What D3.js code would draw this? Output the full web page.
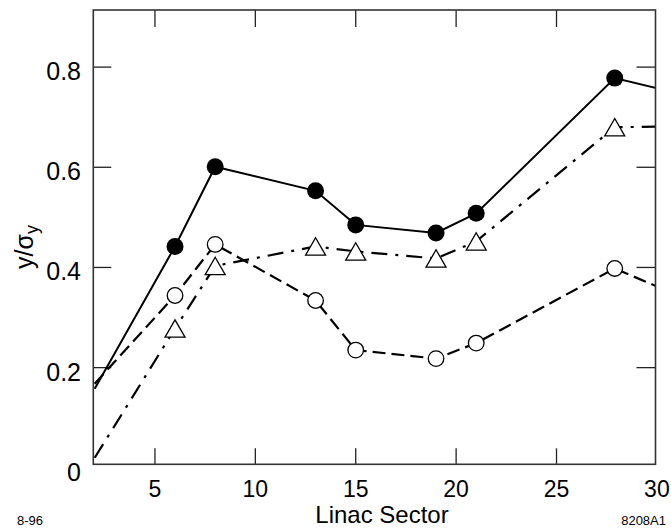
<!DOCTYPE html>
<html><head><meta charset="utf-8">
<script src="https://cdn.jsdelivr.net/npm/d3@7"></script>
<style>body{margin:0;background:#fff}</style>
</head><body>
<svg id="c" width="671" height="529"></svg>
<script>
const solidX = [2, 6, 8, 13, 15, 19, 21, 27.9, 30];
const solidY = [0.158, 0.442, 0.601, 0.553, 0.485, 0.469, 0.508, 0.778, 0.758];
const dashedX = [2, 6, 8, 13, 15, 19, 21, 27.9, 30];
const dashedY = [0.168, 0.344, 0.446, 0.334, 0.235, 0.218, 0.249, 0.398, 0.362];
const dotdashX = [2, 6, 8, 13, 15, 19, 21, 27.9, 30];
const dotdashY = [0.02, 0.278, 0.403, 0.442, 0.432, 0.418, 0.452, 0.680, 0.681];
const xTicks = [5, 10, 15, 20, 25, 30];
const yTicks = [0, 0.2, 0.4, 0.6, 0.8];
const yTickLabels = ["0", "0.2", "0.4", "0.6", "0.8"];

const svg = d3.select("#c");
const L = 93.3, R = 655.5, T = 10, B = 464.3;
const x = d3.scaleLinear().domain([1.93, 29.93]).range([L, R]);
const y = d3.scaleLinear().domain([0.007, 0.914]).range([B, T]);
const font = "'Liberation Sans', Arial, sans-serif";

svg.append("defs").append("clipPath").attr("id", "clip")
  .append("rect").attr("x", L).attr("y", T).attr("width", R - L).attr("height", B - T);

// ticks (inward)
const tickX = xTicks.filter(v => v < 30);
const tickY = yTicks.filter(v => v > 0);
const tk = svg.append("g").attr("stroke", "#222").attr("stroke-width", 1.3);
tickX.forEach(v => {
  tk.append("line").attr("x1", x(v)).attr("x2", x(v)).attr("y1", B).attr("y2", B - 16);
  tk.append("line").attr("x1", x(v)).attr("x2", x(v)).attr("y1", T).attr("y2", T + 17);
});
tickY.forEach(v => {
  tk.append("line").attr("y1", y(v)).attr("y2", y(v)).attr("x1", L).attr("x2", L + 18);
  tk.append("line").attr("y1", y(v)).attr("y2", y(v)).attr("x1", R).attr("x2", R - 19);
});

// lines
const mk = (xs, ys) => xs.map((d, i) => [d, ys[i]]);
const line = d3.line().x(d => x(d[0])).y(d => y(d[1]));
const lg = svg.append("g").attr("clip-path", "url(#clip)").attr("fill", "none").attr("stroke", "#000");
lg.append("path").attr("d", line(mk(solidX, solidY))).attr("stroke-width", 2);
lg.append("path").attr("d", line(mk(dashedX, dashedY))).attr("stroke-width", 2.2).attr("stroke-dasharray", "13,6");
lg.append("path").attr("d", line(mk(dotdashX, dotdashY))).attr("stroke-width", 2.2).attr("stroke-dasharray", "16,8,3,8");

// markers (skip edge points)
const inner = (xs, ys) => mk(xs, ys).slice(1, -1);
const mg = svg.append("g");
mg.selectAll(".f").data(inner(solidX, solidY)).join("circle")
  .attr("cx", d => x(d[0])).attr("cy", d => y(d[1])).attr("r", 8.5).attr("fill", "#000");
mg.selectAll(".o").data(inner(dashedX, dashedY)).join("circle")
  .attr("cx", d => x(d[0])).attr("cy", d => y(d[1])).attr("r", 7.8)
  .attr("fill", "#fff").attr("stroke", "#000").attr("stroke-width", 1.3);
const s = 20, h = s * Math.sqrt(3) / 2;
mg.selectAll(".t").data(inner(dotdashX, dotdashY)).join("path")
  .attr("d", d => { const cx = x(d[0]), cy = y(d[1]);
    return `M${cx},${cy - h / 2}L${cx + s / 2},${cy + h / 2}L${cx - s / 2},${cy + h / 2}Z`; })
  .attr("fill", "#fff").attr("stroke", "#000").attr("stroke-width", 1.3);

// frame
svg.append("rect").attr("x", L).attr("y", T).attr("width", R - L).attr("height", B - T)
  .attr("fill", "none").attr("stroke", "#333").attr("stroke-width", 1.6);

// tick labels
svg.append("g").selectAll("text").data(xTicks).join("text")
  .attr("x", d => x(d)).attr("y", 497).attr("text-anchor", "middle")
  .attr("font-family", font).attr("font-size", 23).text(d => d);
svg.append("g").selectAll("text").data(yTicks).join("text")
  .attr("x", 81).attr("y", d => y(d) + 13).attr("text-anchor", "end")
  .attr("font-family", font).attr("font-size", 25).text((d, i) => yTickLabels[i]);

// axis titles
svg.append("text").attr("x", 382).attr("y", 523).attr("text-anchor", "middle")
  .attr("font-family", font).attr("font-size", 24).text("Linac Sector");
const yl = svg.append("text").attr("transform", "translate(33,247) rotate(-90)")
  .attr("text-anchor", "middle").attr("font-family", font).attr("font-size", 25);
yl.append("tspan").text("y/σ");
yl.append("tspan").attr("font-size", 18).attr("dy", 5).text("y");

svg.append("text").attr("x", 17).attr("y", 525).attr("font-family", font).attr("font-size", 13).text("8-96");
svg.append("text").attr("x", 666).attr("y", 525).attr("text-anchor", "end").attr("font-family", font).attr("font-size", 13).text("8208A1");
</script>
</body></html>
